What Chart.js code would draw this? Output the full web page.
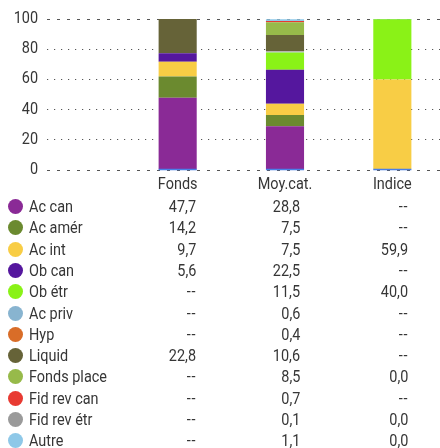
<!DOCTYPE html>
<html><head><meta charset="utf-8">
<script src="https://cdn.jsdelivr.net/npm/chart.js@4"></script>
<style>
html,body{margin:0;padding:0;background:#fff;overflow:hidden;width:440px;height:448px;}
#wrap{position:relative;width:446px;height:200px;}
#tbl{position:absolute;left:0;top:0;width:440px;height:448px;pointer-events:none;}
.row{position:absolute;left:0;height:21px;line-height:21px;width:440px;font-size:17px;font-family:Roboto,sans-serif;color:#363636;}
.dot{position:absolute;left:8px;top:3px;width:15px;height:15px;border-radius:50%;}
.lab{position:absolute;left:29px;top:0;white-space:nowrap;transform:scaleX(0.85);transform-origin:left center;}
.val{position:absolute;top:0;text-align:right;white-space:nowrap;transform:scaleX(0.85);transform-origin:right center;}
.dash{letter-spacing:1px;}
</style>
</head><body>
<div id="wrap"><canvas id="c"></canvas></div>
<div id="tbl"></div>
<script>
const categories = ['Fonds', 'Moy.cat.', 'Indice'];
const seriesNames = ['Ac can', 'Ac amér', 'Ac int', 'Ob can', 'Ob étr', 'Ac priv', 'Hyp', 'Liquid', 'Fonds place', 'Fid rev can', 'Fid rev étr', 'Autre'];
const fondsValues  = [47.7, 14.2, 9.7, 5.6, null, null, null, 22.8, null, null, null, null];
const moyCatValues = [28.8, 7.5, 7.5, 22.5, 11.5, 0.6, 0.4, 10.6, 8.5, 0.7, 0.1, 1.1];
const indiceValues = [null, null, 59.9, null, 40.0, null, null, null, 0.0, null, 0.0, 0.0];
const yTicks = [0, 20, 40, 60, 80, 100];
const seriesColors = ['#8a2a96', '#6b8a2f', '#f8cd45', '#55179e', '#8af217', '#88b4d0', '#d96d28', '#666338', '#97ba4a', '#e83a32', '#9a9a9a', '#8ec8e8'];

const FONT = 'Roboto, sans-serif';
const TEXT_SCALE = 0.85;

const datasets = seriesNames.map((name, i) => ({
  label: name,
  data: [fondsValues[i], moyCatValues[i], indiceValues[i]],
  backgroundColor: seriesColors[i],
  borderWidth: 0,
  stack: 's',
  categoryPercentage: 1,
  barPercentage: 0.355,
  minBarLength: name === 'Autre' ? 1 : 0
}));

const condensePlugin = {
  id: 'condense',
  beforeInit(chart) {
    const ctx = chart.ctx;
    const orig = ctx.fillText.bind(ctx);
    ctx.fillText = function (text, x, y) {
      ctx.save();
      ctx.translate(x, y);
      ctx.scale(TEXT_SCALE, 1);
      orig(text, 0, 0);
      ctx.restore();
    };
  }
};

const gridPlugin = {
  id: 'fullGrid',
  beforeDatasetsDraw(chart) {
    const ctx = chart.ctx, y = chart.scales.y;
    ctx.save();
    ctx.strokeStyle = '#555';
    yTicks.forEach(v => {
      const py = Math.round(y.getPixelForValue(v)) + 0.5;
      ctx.beginPath();
      if (v === 0 || v === 100) { ctx.setLineDash([3, 7]); ctx.lineWidth = 1.2; }
      else { ctx.setLineDash([1.2, 5.8]); ctx.lineWidth = 1.2; }
      ctx.moveTo(47, py); ctx.lineTo(440, py); ctx.stroke();
    });
    ctx.restore();
  },
  afterDatasetsDraw(chart) {
    const ctx = chart.ctx, x = chart.scales.x, y = chart.scales.y;
    const w = (x.getPixelForValue(1) - x.getPixelForValue(0)) * 0.355;
    const py = y.getPixelForValue(0);
    ctx.save();
    ctx.strokeStyle = '#4a7fe8';
    ctx.lineWidth = 1.5;
    categories.forEach((c, i) => {
      const cx = x.getPixelForValue(i);
      ctx.beginPath(); ctx.moveTo(cx - w / 2, py); ctx.lineTo(cx + w / 2, py); ctx.stroke();
    });
    ctx.restore();
  }
};

new Chart(document.getElementById('c'), {
  type: 'bar',
  data: { labels: categories, datasets },
  options: {
    responsive: true,
    maintainAspectRatio: false,
    animation: false,
    layout: { padding: { top: 19, right: 0, bottom: 0, left: 0 } },
    plugins: { legend: { display: false }, tooltip: { enabled: false } },
    scales: {
      x: {
        stacked: true,
        grid: { display: false, drawTicks: false },
        border: { display: false },
        ticks: { color: '#363636', font: { family: FONT, size: 17 }, padding: 5, maxRotation: 0 }
      },
      y: {
        stacked: true,
        min: 0, max: 100,
        afterBuildTicks(scale) { scale.ticks = yTicks.map(v => ({ value: v })); },
        afterFit(scale) { scale.width = 124; },
        grid: { display: false, drawTicks: true, tickLength: 84 },
        border: { display: false },
        ticks: { color: '#363636', font: { family: FONT, size: 17 }, padding: 2 }
      }
    }
  },
  plugins: [condensePlugin, gridPlugin]
});

// table
const tbl = document.getElementById('tbl');
const colRights = [196, 300, 408];
const fmt = v => v === null ? '--' : v.toFixed(1).replace('.', ',');
seriesNames.forEach((name, i) => {
  const row = document.createElement('div');
  row.className = 'row';
  row.style.top = (206.5 + i * 21.3 - 10.5) + 'px';
  const dot = document.createElement('div');
  dot.className = 'dot'; dot.style.background = seriesColors[i];
  row.appendChild(dot);
  const lab = document.createElement('div');
  lab.className = 'lab'; lab.textContent = name;
  row.appendChild(lab);
  [fondsValues[i], moyCatValues[i], indiceValues[i]].forEach((v, k) => {
    const d = document.createElement('div');
    d.className = 'val' + (v === null ? ' dash' : '');
    d.style.right = (440 - colRights[k]) + 'px';
    d.textContent = fmt(v);
    row.appendChild(d);
  });
  tbl.appendChild(row);
});
</script>
</body></html>
